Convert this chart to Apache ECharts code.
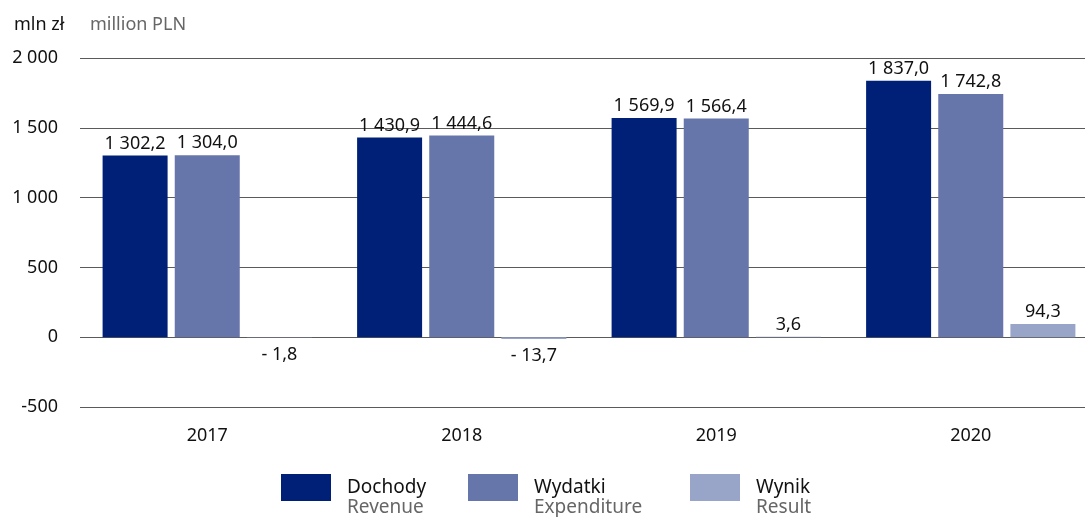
<!DOCTYPE html>
<html>
<head>
<meta charset="utf-8">
<script src="https://cdn.jsdelivr.net/npm/echarts@6/dist/echarts.min.js"></script>
<style>html,body{margin:0;padding:0;background:#fff;overflow:hidden;width:1085px;height:517px}#c{width:1098px;height:517px}</style>
</head>
<body>
<div id="c"></div>
<script>
const categories = ['2017', '2018', '2019', '2020'];
const dochody = [1302.2, 1430.9, 1569.9, 1837.0];
const wydatki = [1304.0, 1444.6, 1566.4, 1742.8];
const wynik = [-1.8, -13.7, 3.6, 94.3];
const seriesNames = ['Dochody', 'Wydatki', 'Wynik'];
const seriesNamesEn = ['Revenue', 'Expenditure', 'Result'];
const colors = ['#002078', '#6676ab', '#99a5c8'];
const FONT = 'Noto Sans';

function fmtNum(v, dec) {
  const neg = v < 0;
  const s = Math.abs(v).toFixed(dec);
  const parts = s.split('.');
  const intp = parts[0].replace(/\B(?=(\d{3})+(?!\d))/g, ' ');
  return (neg ? '- ' : '') + intp + (parts[1] ? ',' + parts[1] : '');
}

function mkData(arr) {
  return arr.map(v => v < 0
    ? { value: v, label: { position: 'bottom', distance: 8 } }
    : { value: v });
}

const chart = echarts.init(document.getElementById('c'));
const lbl = { show: true, position: 'top', distance: 3, color: '#111', fontSize: 18, fontFamily: FONT,
  formatter: p => fmtNum(p.value, 1) };

const legendLefts = [281, 468, 690];
const legends = seriesNames.map((n, i) => ({
  left: legendLefts[i], top: 474, padding: 0,
  itemWidth: 50, itemHeight: 27,
  icon: 'rect',
  data: [n],
  formatter: name => '{a|' + name + '}\n{b|' + seriesNamesEn[seriesNames.indexOf(name)] + '}',
  textStyle: {
    padding: [20, 0, 0, 11],
    rich: {
      a: { color: '#111', fontSize: 19, lineHeight: 20, fontFamily: FONT },
      b: { color: '#666', fontSize: 19, lineHeight: 20, fontFamily: FONT }
    }
  }
}));

chart.setOption({
  animation: false,
  textStyle: { fontFamily: FONT },
  title: {
    left: 9, top: 11,
    text: '{a|mln zł}{b|million PLN}',
    textStyle: {
      fontWeight: 'normal',
      rich: {
        a: { color: '#111', fontSize: 18, width: 76, fontWeight: 'normal', fontFamily: FONT },
        b: { color: '#666', fontSize: 18, fontWeight: 'normal', fontFamily: FONT }
      }
    }
  },
  legend: legends,
  grid: { left: 80, right: 0, top: 58, bottom: 110, containLabel: false },
  xAxis: {
    type: 'category',
    data: categories,
    axisLine: { show: false, onZero: false },
    axisTick: { show: false },
    axisLabel: { color: '#111', fontSize: 18, margin: 20, fontFamily: FONT }
  },
  yAxis: {
    type: 'value',
    min: -500, max: 2000, interval: 500,
    axisLine: { show: false },
    axisTick: { show: false },
    axisLabel: { color: '#111', fontSize: 18, margin: 22, fontFamily: FONT,
      formatter: v => v < 0 ? '-' + Math.abs(v) : fmtNum(v, 0) },
    splitLine: { lineStyle: { color: '#5a5a5a', width: 1 } }
  },
  series: [
    { name: seriesNames[0], type: 'bar', data: mkData(dochody), barWidth: 65, barGap: '11%', itemStyle: { color: colors[0] }, label: lbl },
    { name: seriesNames[1], type: 'bar', data: mkData(wydatki), barWidth: 65, barGap: '11%', itemStyle: { color: colors[1] }, label: lbl },
    { name: seriesNames[2], type: 'bar', data: mkData(wynik), barWidth: 65, barGap: '11%', itemStyle: { color: colors[2] }, label: lbl }
  ]
});
</script>
</body>
</html>
